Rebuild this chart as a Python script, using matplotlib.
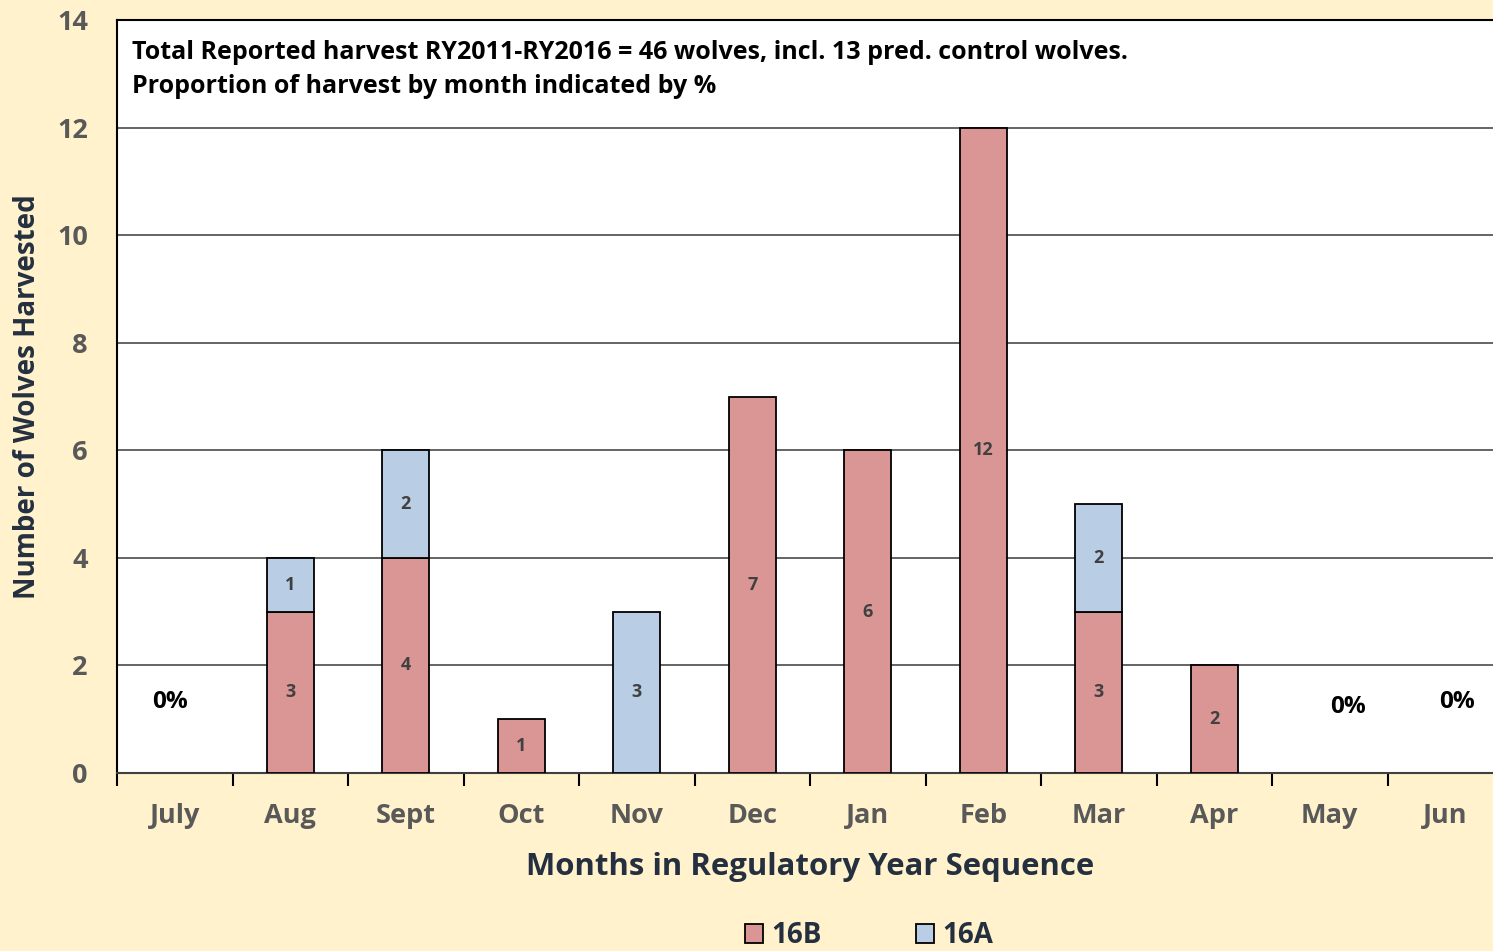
import numpy as np
import matplotlib.pyplot as plt

# ------------------------------------------------------------------------------
# Data
# ------------------------------------------------------------------------------

months = ["July", "Aug", "Sept", "Oct", "Nov", "Dec",
          "Jan", "Feb", "Mar", "Apr", "May", "Jun"]
harvest_16b = [0, 3, 4, 1, 0, 7, 6, 12, 3, 2, 0, 0]
harvest_16a = [0, 1, 2, 0, 3, 0, 0, 0, 2, 0, 0, 0]

# zero-harvest months get a "0%" label
zero_labels = ["0%", "0%", "0%"]
zero_months = [0, 10, 11]

note = ("Total Reported harvest RY2011-RY2016 = 46 wolves, incl. 13 pred. control wolves.\n"
        "Proportion of harvest by month indicated by %")

# ------------------------------------------------------------------------------
# Style
# ------------------------------------------------------------------------------

BG = "#FFF2CC"
RED = "#D99694"
BLUE = "#B9CDE5"
GREY = "#595959"
DARK = "#243040"

# hand placement of the "0%" labels (offset from month centre, height)
ZERO_DX = [-0.04, 0.16, 0.1]
ZERO_Y = [1.32, 1.23, 1.32]

plt.rcParams["font.family"] = ["Open Sans", "DejaVu Sans"]
plt.rcParams["font.weight"] = "bold"

fig = plt.figure(figsize=(14.93, 9.51), dpi=100, facecolor=BG)
ax = fig.add_axes([117 / 1493, 178 / 951, 1386 / 1493, 753 / 951])
ax.set_facecolor("white")

x = np.arange(len(months))
b16b = np.array(harvest_16b)
b16a = np.array(harvest_16a)

# skip zero-height segments so no flat outline shows on the axis
ax.bar(x, np.where(b16b > 0, b16b, np.nan), width=0.41, color=RED,
       edgecolor="black", linewidth=1.3, label="16B", zorder=3)
ax.bar(x, np.where(b16a > 0, b16a, np.nan), width=0.41, bottom=b16b,
       color=BLUE, edgecolor="black", linewidth=1.3, label="16A", zorder=3)

# segment labels
for i in x:
    if b16b[i] > 0:
        ax.text(i, b16b[i] / 2, str(b16b[i]), ha="center", va="center",
                fontsize=13, color="#404040", fontweight="bold", zorder=4)
    if b16a[i] > 0:
        ax.text(i, b16b[i] + b16a[i] / 2, str(b16a[i]), ha="center",
                va="center", fontsize=13, color="#404040", fontweight="bold",
                zorder=4)

for lab, m, dx, h in zip(zero_labels, zero_months, ZERO_DX, ZERO_Y):
    ax.text(m + dx, h, lab, ha="center", va="center", fontsize=17.5,
            color="black", fontweight="bold", zorder=4)

ax.text(0.011, 0.973, note, transform=ax.transAxes, ha="left", va="top",
        fontsize=18, color="black", fontweight="bold", linespacing=1.45)

# ------------------------------------------------------------------------------
# Axes
# ------------------------------------------------------------------------------

ax.set_xlim(-0.5, 11.5)
ax.set_ylim(0, 14)
ax.set_yticks(range(0, 15, 2))
ax.grid(axis="y", color="#4a4a4a", linewidth=1.2, zorder=0)
ax.set_axisbelow(True)

ax.set_xticks(x)
ax.set_xticklabels(months)
ax.set_xticks(np.arange(-0.5, 11.6, 1), minor=True)
ax.tick_params(axis="x", which="major", length=0, pad=21.5, labelsize=19.5,
               labelcolor=GREY)
ax.tick_params(axis="x", which="minor", length=9, width=1.5, color="black",
               direction="out")
ax.tick_params(axis="y", length=0, pad=21, labelsize=19.5, labelcolor=GREY)
for t in ax.get_xticklabels() + ax.get_yticklabels():
    t.set_fontweight("bold")

ax.spines["left"].set_color("black")
ax.spines["left"].set_linewidth(1.5)
ax.spines["top"].set_color("black")
ax.spines["top"].set_linewidth(1.5)
ax.spines["bottom"].set_color("#404040")
ax.spines["bottom"].set_linewidth(1.5)
ax.spines["right"].set_visible(False)

ax.set_xlabel("Months in Regulatory Year Sequence", fontsize=22.4,
              color=DARK, fontweight="bold", labelpad=16.5)
ax.set_ylabel("Number of Wolves Harvested", fontsize=20, color=DARK,
              fontweight="bold")
ax.yaxis.set_label_coords(-0.054, 0.5)

leg = fig.legend(loc="center", bbox_to_anchor=(0.582, 0.016), ncol=2,
                 frameon=False, handlelength=0.65,
                 handleheight=0.65, handletextpad=0.3, columnspacing=3.4,
                 borderpad=0.2, prop={"weight": "bold", "size": 20})
for t in leg.get_texts():
    t.set_color(DARK)

fig.savefig("out.png", dpi=100, facecolor=BG)
